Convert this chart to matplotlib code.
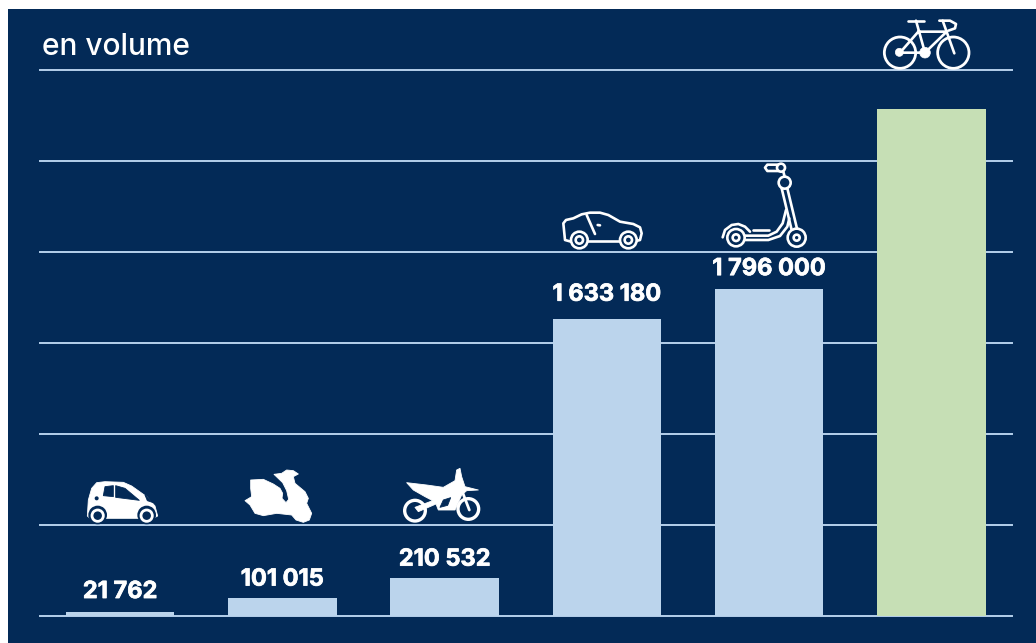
import matplotlib
matplotlib.use("Agg")
import matplotlib.pyplot as plt
import matplotlib.patheffects as pe
from matplotlib.patches import Rectangle, Circle, Polygon

plt.rcParams['font.family'] = ['Inter', 'DejaVu Sans']

# Data (the last bar has no printed value)
categories = ["voiturette", "scooter", "moto", "voiture", "trottinette", "velo"]
values = [21762, 101015, 210532, 1633180, 1796000, 2785000]
labels = ["21 762", "101 015", "210 532", "1 633 180", "1 796 000", ""]
label_gaps = [20, 18, 18, 24, 20, 0]
bar_colors = ["#BBD4EC"] * 5 + ["#C6DFB5"]
grid_ticks = [0, 500000, 1000000, 1500000, 2000000, 2500000, 3000000]

NAVY = "#032A57"
GRID = "#B5D0EC"
W, H = 1036, 643

fig = plt.figure(figsize=(W / 100, H / 100), dpi=100, facecolor="white")
fig.patches.append(Rectangle((8 / W, 0), 1, 1 - 9 / H, transform=fig.transFigure,
                             facecolor=NAVY, edgecolor="none", zorder=-5))

# Chart axes
ax = fig.add_axes([40 / W, 1 - 616 / H, 972 / W, 546 / H])
ax.patch.set_alpha(0)
ax.set_xlim(-0.493, 5.496)
ax.set_ylim(0, 3000000)
ax.bar(range(6), values, width=0.668, color=bar_colors, zorder=3)
ax.set_yticks(grid_ticks)
ax.set_xticks([])
ax.tick_params(left=False, labelleft=False)
ax.grid(axis="y", color=GRID, lw=1.4, zorder=1)
for line in ax.get_ygridlines():
    line.set_clip_on(False)
for s in ax.spines.values():
    s.set_visible(False)

for i, (v, lab, gap) in enumerate(zip(values, labels, label_gaps)):
    if lab:
        t = ax.annotate(lab, (i, v), xytext=(0, gap * 0.72), textcoords="offset points",
                        ha="center", va="center", color="white", fontsize=17,
                        fontweight="bold", zorder=5)
        t.set_path_effects([pe.withStroke(linewidth=0.5, foreground="white")])

# Overlay in pixels, for title and pictograms
ov = fig.add_axes([0, 0, 1, 1])
ov.set_xlim(0, W)
ov.set_ylim(H, 0)
ov.axis("off")
ov.patch.set_alpha(0)
ov.set_autoscale_on(False)

ov.text(42, 47, "en volume", color="white", fontsize=21.5, fontweight="medium",
        ha="left", va="center")


def stroke(x0, y0, pts, lw=1.9):
    # pts are in 3x zoom coordinates
    ov.plot([x0 + p[0] / 3 for p in pts], [y0 + p[1] / 3 for p in pts],
            color="white", lw=lw, solid_capstyle="round", solid_joinstyle="round", zorder=5)


def ring(x0, y0, cx, cy, r, lw=1.9, fill=NAVY, zorder=6):
    ov.add_patch(Circle((x0 + cx / 3, y0 + cy / 3), r / 3, facecolor=fill,
                        edgecolor="white", lw=lw, zorder=zorder))


def blob(x0, y0, pts, color="white", zorder=3):
    ov.add_patch(Polygon([(x0 + p[0] / 3, y0 + p[1] / 3) for p in pts], closed=True,
                         facecolor=color, edgecolor=color, lw=0.6,
                         joinstyle="round", zorder=zorder))


# Bicycle
x0, y0 = 700, 0
ring(x0, y0, 600, 158, 47, lw=2.0, zorder=2)
ring(x0, y0, 760, 158, 47, lw=2.0, zorder=2)
stroke(x0, y0, [(625, 62), (672, 62)])
stroke(x0, y0, [(648, 62), (675, 158), (600, 158), (655, 95), (740, 95), (675, 158)])
stroke(x0, y0, [(718, 62), (750, 62), (768, 72), (765, 85), (745, 92)])
stroke(x0, y0, [(728, 62), (763, 160)])
ring(x0, y0, 598, 157, 12, lw=0.5, fill="white")
ring(x0, y0, 675, 158, 16, lw=0.5, fill="white")

# Kick scooter
stroke(x0, y0, [(68, 712), (75, 690), (95, 675), (115, 672), (135, 680), (150, 695)])
stroke(x0, y0, [(135, 707), (205, 707), (230, 695), (248, 670), (258, 630)])
stroke(x0, y0, [(135, 720), (205, 720), (240, 708), (262, 680), (268, 655)])
stroke(x0, y0, [(160, 690), (208, 690)])
stroke(x0, y0, [(245, 565), (275, 690)])
stroke(x0, y0, [(262, 565), (292, 690)])
stroke(x0, y0, [(250, 515), (254, 530)])
stroke(x0, y0, [(235, 494), (202, 494), (195, 503), (202, 513), (235, 513)])
ring(x0, y0, 108, 713, 26)
ring(x0, y0, 108, 713, 10)
ring(x0, y0, 290, 713, 27)
ring(x0, y0, 290, 713, 9)
ring(x0, y0, 254, 548, 18)
ring(x0, y0, 243, 503, 12)

# Sedan
x0, y0 = 540, 190
stroke(x0, y0, [(93, 155), (75, 150), (70, 100), (78, 90), (100, 85), (125, 73), (150, 68),
                (180, 68), (205, 75), (240, 95), (280, 102), (300, 112), (305, 130),
                (300, 150), (288, 153)])
stroke(x0, y0, [(140, 153), (240, 153)])
stroke(x0, y0, [(140, 75), (165, 132)])
stroke(x0, y0, [(173, 105), (180, 106)])
ring(x0, y0, 118, 150, 25)
ring(x0, y0, 118, 150, 11)
ring(x0, y0, 265, 150, 25)
ring(x0, y0, 265, 150, 11)

# Small city car
x0, y0 = 60, 460
blob(x0, y0, [(82, 168), (85, 120), (95, 85), (110, 68), (135, 65), (190, 67), (215, 78),
              (260, 110), (285, 138), (293, 168), (280, 175), (90, 175)])
car_windows = [
    [(130, 107), (135, 80), (160, 77), (160, 110)],
    [(167, 77), (195, 85), (238, 121), (167, 112)],
    [(255, 105), (280, 128), (262, 122)],
]
for c in car_windows:
    blob(x0, y0, c, NAVY, zorder=4)
ring(x0, y0, 110, 115, 6, lw=0, fill=NAVY)
for cx in (113, 260):
    ring(x0, y0, cx, 165, 28, lw=0, fill=NAVY)
    ring(x0, y0, cx, 167, 17, lw=2.0)

# Scooter silhouette
blob(x0, y0, [(572, 60), (610, 58), (640, 72), (660, 85), (668, 100), (666, 115), (678, 128),
              (686, 118), (680, 92), (668, 68), (642, 43), (665, 40), (680, 30), (700, 32),
              (715, 42), (700, 50), (705, 70), (735, 95), (745, 115), (740, 130), (755, 160),
              (748, 180), (730, 187), (708, 180), (695, 165), (650, 160), (610, 167), (585, 160),
              (570, 135), (555, 122), (575, 110), (572, 85)])

# Motorbike
ring(x0, y0, 1065, 152, 31, lw=2.4, zorder=2)
ring(x0, y0, 1225, 147, 31, lw=2.4, zorder=2)
blob(x0, y0, [(1040, 68), (1100, 75), (1150, 82), (1185, 62), (1190, 30), (1200, 25),
              (1205, 50), (1215, 80), (1255, 90), (1220, 92), (1205, 105), (1185, 150),
              (1135, 150), (1128, 132), (1075, 155), (1065, 142), (1118, 122), (1095, 110),
              (1060, 90)])
blob(x0, y0, [(1140, 142), (1150, 120), (1172, 113), (1163, 136)], NAVY, zorder=4)
stroke(x0, y0, [(1205, 90), (1228, 150)], lw=2.0)

fig.savefig("out.png", dpi=100, facecolor="white")
